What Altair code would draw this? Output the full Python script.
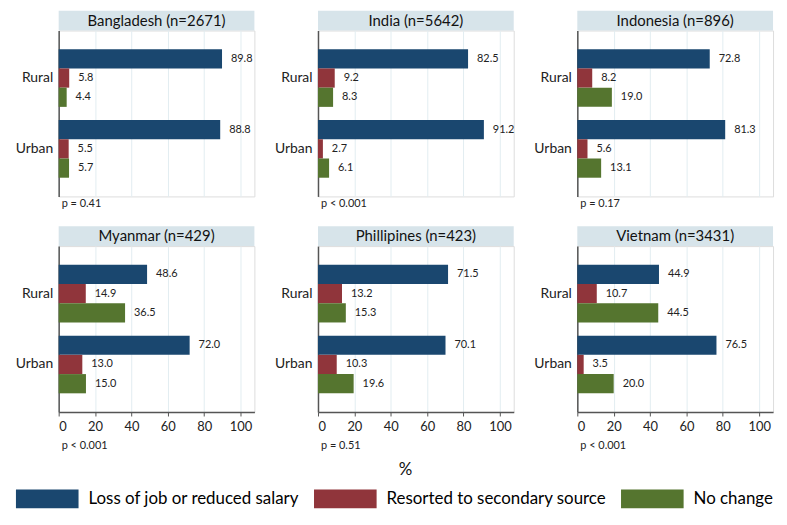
import altair as alt
import pandas as pd

countries = ["Bangladesh (n=2671)", "India (n=5642)", "Indonesia (n=896)",
             "Myanmar (n=429)", "Phillipines (n=423)", "Vietnam (n=3431)"]
locations = ["Rural", "Urban"]
series = ["Loss of job or reduced salary", "Resorted to secondary source", "No change"]
colors = ["#1a476f", "#90353b", "#55752f"]

loss_rural = [89.8, 82.5, 72.8, 48.6, 71.5, 44.9]
loss_urban = [88.8, 91.2, 81.3, 72.0, 70.1, 76.5]
second_rural = [5.8, 9.2, 8.2, 14.9, 13.2, 10.7]
second_urban = [5.5, 2.7, 5.6, 13.0, 10.3, 3.5]
nochange_rural = [4.4, 8.3, 19.0, 36.5, 15.3, 44.5]
nochange_urban = [5.7, 6.1, 13.1, 15.0, 19.6, 20.0]
pvalues = ["p = 0.41", "p < 0.001", "p = 0.17", "p < 0.001", "p = 0.51", "p < 0.001"]
xticks = [0, 20, 40, 60, 80, 100]

rows = []
for i, c in enumerate(countries):
    vals = {
        ("Rural", series[0]): loss_rural[i], ("Urban", series[0]): loss_urban[i],
        ("Rural", series[1]): second_rural[i], ("Urban", series[1]): second_urban[i],
        ("Rural", series[2]): nochange_rural[i], ("Urban", series[2]): nochange_urban[i],
    }
    for (loc, s), v in vals.items():
        rows.append({"country": c, "loc": loc, "series": s, "value": v})
df = pd.DataFrame(rows)

FONT = "Lato"
W, H = 197, 167

legend = alt.Legend(
    title=None, orient="none", direction="horizontal", legendX=-43, legendY=440,
    symbolType="M-1,-0.3H1V0.3H-1Z", symbolSize=3969, symbolStrokeWidth=0,
    symbolOpacity=1, labelFontSize=17, labelFont=FONT, labelColor="#000",
    labelOffset=10, columnPadding=14, labelLimit=400,
)


def panel(i):
    c = countries[i]
    bottom = i >= 3
    d = df[df.country == c]
    base = alt.Chart(d)
    xaxis = alt.Axis(
        values=xticks, grid=True, gridColor="#e2edf1", gridWidth=1,
        labels=bottom, ticks=bottom, domain=bottom,
        domainColor="#555", domainWidth=1.5, tickColor="#555", tickSize=4,
        labelFontSize=13, labelFont=FONT, labelColor="#222", labelPadding=5,
        title=None,
    )
    yaxis = alt.Axis(
        title=None, ticks=False, labelFontSize=14, labelFont=FONT, labelColor="#222",
        labelPadding=6, domainColor="#555", domainWidth=1.5, grid=False,
    )
    x = alt.X("value:Q", scale=alt.Scale(domain=[0, 107.6], nice=False), axis=xaxis)
    y = alt.Y("loc:N", sort=locations,
              scale=alt.Scale(paddingInner=0.186, paddingOuter=0.264), axis=yaxis)
    yo = alt.YOffset("series:N", sort=series,
                     scale=alt.Scale(paddingInner=0, paddingOuter=0))
    bars = base.mark_bar().encode(
        x=x, y=y, yOffset=yo,
        color=alt.Color("series:N", scale=alt.Scale(domain=series, range=colors),
                        legend=legend),
    )
    labels = base.mark_text(align="left", dx=9, fontSize=11, font=FONT,
                            color="#222").encode(
        x=x, y=y, yOffset=yo, text=alt.Text("value:Q", format=".1f"))

    one = pd.DataFrame({"title": [c], "p": [pvalues[i]]})
    strip = alt.Chart(one).mark_rect(color="#d7e4ea").encode(
        x=alt.value(0), x2=alt.value(W), y=alt.value(-20), y2=alt.value(0))
    strip_text = alt.Chart(one).mark_text(fontSize=15, font=FONT, color="#111",
                                          baseline="middle").encode(
        x=alt.value(W / 2), y=alt.value(-10), text="title:N")
    ptext = alt.Chart(one).mark_text(fontSize=11, font=FONT, color="#222", align="left",
                                     baseline="middle").encode(
        x=alt.value(3), y=alt.value(H + 34 if bottom else 8 + H), text="p:N")
    layers = [strip, strip_text, bars, labels, ptext]
    if i == 4:
        pct = alt.Chart(pd.DataFrame({"t": ["%"]})).mark_text(
            fontSize=17, font=FONT, color="#111", baseline="middle").encode(
            x=alt.value(88), y=alt.value(H + 58), text="t:N")
        layers.append(pct)
    return alt.layer(*layers).properties(width=W, height=H)


chart = alt.concat(
    *[panel(i) for i in range(6)], columns=3,
    spacing={"row": 50, "column": 64}, bounds="flush",
).properties(
    padding={"left": 6, "top": 0, "right": 5, "bottom": 5},
).configure_view(stroke=None).configure(font=FONT, background="white")

chart.save("out.html", embed_options={"renderer": "svg", "actions": False})
